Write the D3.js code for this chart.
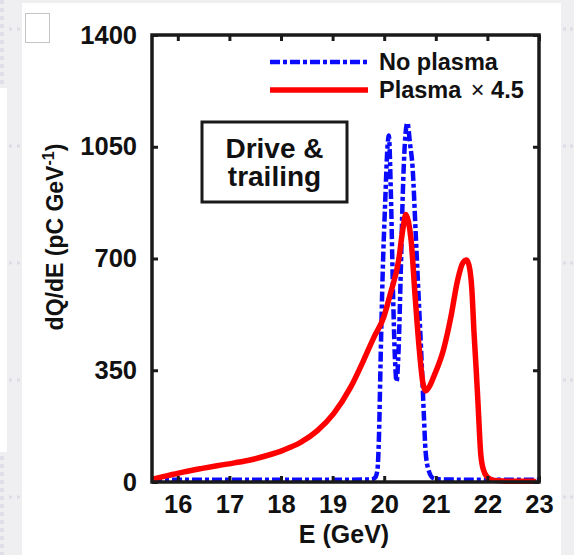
<!DOCTYPE html>
<html>
<head>
<meta charset="utf-8">
<script src="https://cdn.jsdelivr.net/npm/d3@7"></script>
<style>
  html, body { margin: 0; padding: 0; background: #efeef1; }
  svg { display: block; }
  text { font-family: "Liberation Sans", Arial, Helvetica, sans-serif; font-weight: bold; fill: #111; }
</style>
</head>
<body>
<svg id="chart" width="574" height="555"></svg>
<script>
// Energy spectrum with plasma (scaled x 4.5)
const energyPlasma = [15.53, 15.8, 16.1, 16.45, 16.76, 17.1, 17.4, 17.73, 18.05, 18.38, 18.7, 19.02, 19.35, 19.6, 19.8, 19.99, 20.12, 20.28, 20.36, 20.42, 20.47, 20.52, 20.6, 20.68, 20.75, 20.8, 20.88, 20.96, 21.15, 21.29, 21.42, 21.52, 21.6, 21.66, 21.7, 21.74, 21.78, 21.82, 21.87, 21.92, 22.0, 22.1, 22.3, 22.6, 22.9];
const chargePlasma = [10, 20, 31, 42, 51, 60, 69, 83, 100, 124, 160, 214, 297, 381, 453, 516, 590, 694, 790, 838, 815, 760, 580, 415, 310, 285, 300, 330, 415, 515, 630, 685, 695, 665, 600, 470, 360, 240, 90, 40, 15, 6, 3, 2, 2];

// Energy spectrum without plasma
const energyNoPlasma = [15.5, 16, 17, 18, 19, 19.75, 19.83, 19.87, 19.9, 19.93, 19.97, 20.02, 20.06, 20.09, 20.13, 20.17, 20.21, 20.24, 20.28, 20.32, 20.36, 20.4, 20.45, 20.5, 20.55, 20.61, 20.67, 20.73, 20.77, 20.8, 20.86, 20.95, 21.1, 22, 23];
const chargeNoPlasma = [7, 7, 7, 7, 7, 8, 15, 40, 150, 380, 650, 880, 1040, 1085, 900, 600, 380, 315, 420, 650, 900, 1060, 1125, 1060, 985, 780, 570, 360, 205, 100, 37, 12, 8, 7, 7];

const xTicks = [16, 17, 18, 19, 20, 21, 22, 23];
const yTicks = [0, 350, 700, 1050, 1400];

const svg = d3.select("#chart");

// page backdrop
const bg = svg.append("g");
bg.append("rect").attr("x", 0).attr("y", 88).attr("width", 7).attr("height", 364).attr("fill", "#ffffff");
d3.range(0, 84, 8).concat(d3.range(456, 555, 8)).forEach(yy => {
  bg.append("rect").attr("x", 0).attr("y", yy).attr("width", 4).attr("height", 4).attr("fill", "#e2dee7");
});
[29, 146, 263, 380, 497].forEach(yy => {
  [9, 17, 563, 570].forEach(xx => {
    bg.append("rect").attr("x", xx).attr("y", yy - 1.5).attr("width", 3).attr("height", 3).attr("fill", "#e0dce6");
  });
});
bg.append("rect").attr("x", 22).attr("y", 3).attr("width", 539).attr("height", 552).attr("fill", "#ffffff");
bg.append("rect").attr("x", 25.5).attr("y", 13.5).attr("width", 24).attr("height", 29)
  .attr("fill", "#fff").attr("stroke", "#c4c4c4").attr("stroke-width", 1);

const plotLeft = 152, plotRight = 539, plotTop = 35, plotBottom = 482;
const x = d3.scaleLinear().domain([15.5, 23]).range([plotLeft, plotRight]);
const y = d3.scaleLinear().domain([0, 1400]).range([plotBottom, plotTop]);

const plot = svg.append("g");

// curves
const lineGen = (xs, ys) => d3.line()
  .x((d, i) => x(xs[i]))
  .y((d, i) => y(ys[i]))
  .curve(d3.curveMonotoneX)(xs);

plot.append("path")
  .attr("d", lineGen(energyNoPlasma, chargeNoPlasma))
  .attr("fill", "none").attr("stroke", "#0a0aff").attr("stroke-width", 4.5)
  .attr("stroke-dasharray", "10,3,4,3");

plot.append("path")
  .attr("d", lineGen(energyPlasma, chargePlasma))
  .attr("fill", "none").attr("stroke", "#ff0000").attr("stroke-width", 5.5)
  .attr("stroke-linejoin", "round").attr("stroke-linecap", "round");

// axes with inward ticks on all four sides
const axisColor = "#1a1a1a";
const styleAxis = g => {
  g.select(".domain").remove();
  g.selectAll(".tick line").attr("stroke", axisColor).attr("stroke-width", 3);
  g.selectAll(".tick text").attr("font-size", 25.5).attr("fill", "#111")
    .attr("font-family", "'Liberation Sans', Arial, sans-serif").attr("font-weight", "bold");
};
svg.append("g").attr("transform", `translate(0,${plotBottom})`)
  .call(d3.axisBottom(x).tickValues(xTicks).tickFormat(d3.format("d")).tickSizeInner(-6).tickSizeOuter(0).tickPadding(13))
  .call(styleAxis);
svg.append("g").attr("transform", `translate(0,${plotTop})`)
  .call(d3.axisTop(x).tickValues(xTicks).tickFormat("").tickSizeInner(-6).tickSizeOuter(0))
  .call(styleAxis);
svg.append("g").attr("transform", `translate(${plotLeft},0)`)
  .call(d3.axisLeft(y).tickValues(yTicks).tickFormat(d3.format("d")).tickSizeInner(-6).tickSizeOuter(0).tickPadding(15))
  .call(styleAxis);
svg.append("g").attr("transform", `translate(${plotRight},0)`)
  .call(d3.axisRight(y).tickValues(yTicks).tickFormat("").tickSizeInner(-6).tickSizeOuter(0))
  .call(styleAxis);

svg.append("rect").attr("x", plotLeft).attr("y", plotTop).attr("width", plotRight - plotLeft).attr("height", plotBottom - plotTop)
  .attr("fill", "none").attr("stroke", axisColor).attr("stroke-width", 3.5);

// axis titles
svg.append("text").attr("x", 344).attr("y", 543).attr("text-anchor", "middle").attr("font-size", 25).text("E (GeV)");
const yl = svg.append("text").attr("transform", "translate(63,237) rotate(-90)")
  .attr("text-anchor", "middle").attr("font-size", 23);
yl.append("tspan").text("dQ/dE (pC GeV");
yl.append("tspan").attr("dy", -9).attr("font-size", 16).text("-1");
yl.append("tspan").attr("dy", 9).text(")");

// legend
const legend = svg.append("g");
legend.append("line").attr("x1", 270).attr("x2", 368).attr("y1", 62).attr("y2", 62)
  .attr("stroke", "#0a0aff").attr("stroke-width", 4.5).attr("stroke-dasharray", "10,3,4,3");
legend.append("line").attr("x1", 270).attr("x2", 368).attr("y1", 90).attr("y2", 90)
  .attr("stroke", "#ff0000").attr("stroke-width", 5.5);
legend.append("text").attr("x", 379).attr("y", 70).attr("font-size", 23.5).text("No plasma");
const lt = legend.append("text").attr("x", 379).attr("y", 98).attr("font-size", 23.5);
lt.append("tspan").text("Plasma ");
lt.append("tspan").attr("font-weight", "normal").attr("dx", 3).text("\u00d7");
lt.append("tspan").text(" 4.5");

// annotation box
svg.append("rect").attr("x", 202).attr("y", 122).attr("width", 145).attr("height", 80)
  .attr("fill", "#fff").attr("stroke", axisColor).attr("stroke-width", 3);
svg.append("text").attr("x", 274.5).attr("y", 158).attr("text-anchor", "middle").attr("font-size", 28).text("Drive &");
svg.append("text").attr("x", 274.5).attr("y", 186).attr("text-anchor", "middle").attr("font-size", 28).text("trailing");
</script>
</body>
</html>
